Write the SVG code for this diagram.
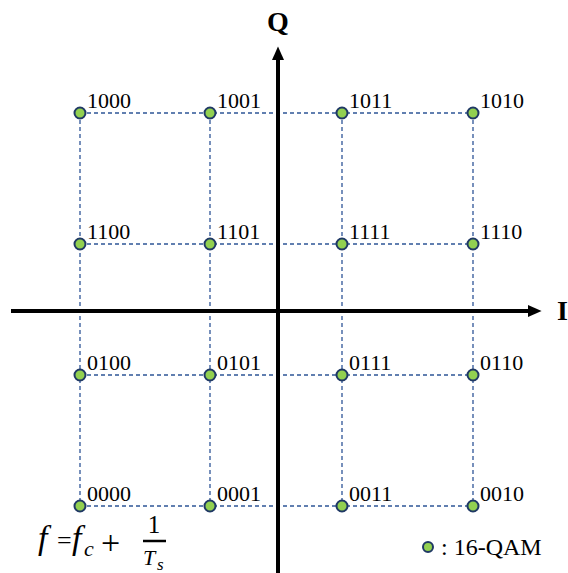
<svg xmlns="http://www.w3.org/2000/svg" width="568" height="573" viewBox="0 0 568 573">
<style>
.grid{stroke:#2E5597;stroke-width:1.3;stroke-dasharray:4,3;fill:none}
.axis{stroke:#000;stroke-width:4;fill:none}
.pt{fill:#92D050;stroke:#1F3864;stroke-width:2}
.lbl{font-family:"Liberation Serif","Times New Roman",serif;font-size:22px;fill:#000}
.ax{font-family:"Liberation Serif","Times New Roman",serif;font-size:28px;font-weight:bold;fill:#000}
.mi{font-family:"Liberation Serif","Times New Roman",serif;font-style:italic;fill:#000}
.mr{font-family:"Liberation Serif","Times New Roman",serif;fill:#000}
</style>
<defs>
<marker id="ah" markerWidth="4" markerHeight="4" refX="1" refY="2" orient="auto" markerUnits="strokeWidth" viewBox="0 0 4 4">
<path d="M0,0.5 L3.4,2 L0,3.5 Z" fill="#000"/>
</marker>
</defs>
<g id="grid">
<line class="grid" x1="80" y1="113" x2="473" y2="113"/>
<line class="grid" x1="80" y1="244" x2="473" y2="244"/>
<line class="grid" x1="80" y1="375" x2="473" y2="375"/>
<line class="grid" x1="80" y1="506" x2="473" y2="506"/>
<line class="grid" x1="80" y1="113" x2="80" y2="506"/>
<line class="grid" x1="210" y1="113" x2="210" y2="506"/>
<line class="grid" x1="342" y1="113" x2="342" y2="506"/>
<line class="grid" x1="473" y1="113" x2="473" y2="506"/>
</g>
<g id="connectors">
<line class="axis" x1="11" y1="311" x2="532" y2="311" marker-end="url(#ah)"/>
<line class="axis" x1="278" y1="573" x2="278" y2="56" marker-end="url(#ah)"/>
</g>
<text class="ax" x="278" y="31" text-anchor="middle">Q</text>
<text class="ax" x="557" y="320">I</text>
<g id="p1000"><circle class="pt" cx="80" cy="113" r="5.5"/><text class="lbl" x="87" y="108">1000</text></g>
<g id="p1001"><circle class="pt" cx="210" cy="113" r="5.5"/><text class="lbl" x="217" y="108">1001</text></g>
<g id="p1011"><circle class="pt" cx="342" cy="113" r="5.5"/><text class="lbl" x="349" y="108">1011</text></g>
<g id="p1010"><circle class="pt" cx="473" cy="113" r="5.5"/><text class="lbl" x="480" y="108">1010</text></g>
<g id="p1100"><circle class="pt" cx="80" cy="244" r="5.5"/><text class="lbl" x="87" y="239">1100</text></g>
<g id="p1101"><circle class="pt" cx="210" cy="244" r="5.5"/><text class="lbl" x="217" y="239">1101</text></g>
<g id="p1111"><circle class="pt" cx="342" cy="244" r="5.5"/><text class="lbl" x="349" y="239">1111</text></g>
<g id="p1110"><circle class="pt" cx="473" cy="244" r="5.5"/><text class="lbl" x="480" y="239">1110</text></g>
<g id="p0100"><circle class="pt" cx="80" cy="375" r="5.5"/><text class="lbl" x="87" y="370">0100</text></g>
<g id="p0101"><circle class="pt" cx="210" cy="375" r="5.5"/><text class="lbl" x="217" y="370">0101</text></g>
<g id="p0111"><circle class="pt" cx="342" cy="375" r="5.5"/><text class="lbl" x="349" y="370">0111</text></g>
<g id="p0110"><circle class="pt" cx="473" cy="375" r="5.5"/><text class="lbl" x="480" y="370">0110</text></g>
<g id="p0000"><circle class="pt" cx="80" cy="506" r="5.5"/><text class="lbl" x="87" y="501">0000</text></g>
<g id="p0001"><circle class="pt" cx="210" cy="506" r="5.5"/><text class="lbl" x="217" y="501">0001</text></g>
<g id="p0011"><circle class="pt" cx="342" cy="506" r="5.5"/><text class="lbl" x="349" y="501">0011</text></g>
<g id="p0010"><circle class="pt" cx="473" cy="506" r="5.5"/><text class="lbl" x="480" y="501">0010</text></g>
<g id="formula">
<text class="mi" x="38" y="549" font-size="34">f</text>
<text class="mr" x="57" y="549" font-size="26">=</text>
<text class="mi" x="72" y="549" font-size="34">f</text>
<text class="mi" x="84" y="556" font-size="22">c</text>
<text class="mr" x="101" y="554" font-size="34">+</text>
<text class="mr" x="154" y="533" font-size="25" text-anchor="middle">1</text>
<line x1="143" y1="541" x2="166" y2="541" stroke="#000" stroke-width="2.5"/>
<text class="mi" x="143" y="565" font-size="22">T</text>
<text class="mi" x="157" y="570" font-size="17">s</text>
</g>
<g id="legend">
<circle class="pt" cx="428" cy="547" r="5"/>
<text class="mr" x="441" y="555" font-size="24">: 16-QAM</text>
</g>
</svg>
